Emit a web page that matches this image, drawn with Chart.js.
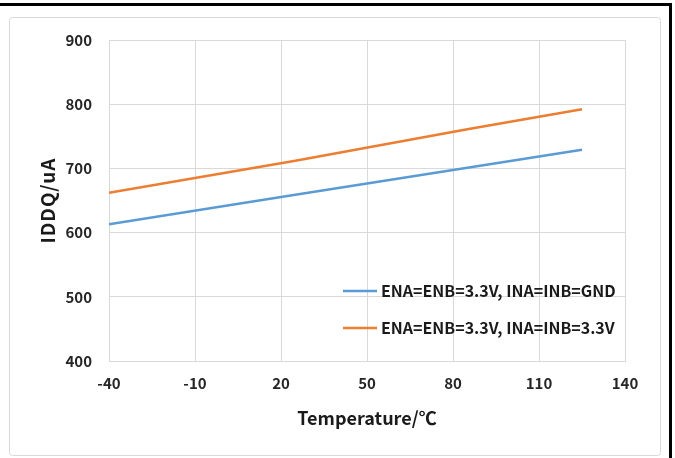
<!DOCTYPE html>
<html>
<head>
<meta charset="utf-8">
<script src="https://cdn.jsdelivr.net/npm/chart.js@4.4.1/dist/chart.umd.min.js"></script>
<style>
  html, body { margin: 0; padding: 0; background: #fff; }
  #wrap { position: relative; width: 675px; height: 458px; }
  canvas { position: absolute; left: 0; top: 0; }
</style>
</head>
<body>
<div id="wrap"><canvas id="chart" width="675" height="458"></canvas></div>
<script>
// Data
var temperatures = [-40, 25, 85, 125];
var iddqGnd = [613, 659, 701, 729];
var iddq33 = [662, 712, 761, 792];
var seriesLabels = ['ENA=ENB=3.3V, INA=INB=GND', 'ENA=ENB=3.3V, INA=INB=3.3V'];
var seriesColors = ['#5B9BD5', '#ED7D31'];
var yTitle = 'IDDQ/uA';

var fontFamily = "'Noto Sans CJK SC', 'Noto Sans', sans-serif";

// page frame: black edge lines and grey chart border
const framePlugin = {
    id: 'frame',
    beforeDraw(chart) {
        const ctx = chart.ctx;
        ctx.save();
        ctx.fillStyle = '#fff';
        ctx.fillRect(0, 0, chart.width, chart.height);
        ctx.strokeStyle = '#d9d9d9';
        ctx.lineWidth = 1;
        ctx.beginPath();
        ctx.roundRect(9.5, 17.5, 651, 438, 3);
        ctx.stroke();
        ctx.strokeStyle = '#000';
        ctx.lineWidth = 3;
        ctx.beginPath();
        ctx.moveTo(0, 4.5);
        ctx.lineTo(670.5, 4.5);
        ctx.lineTo(670.5, chart.height);
        ctx.stroke();
        ctx.restore();
    }
};

// y title drawn by hand so it can get a little letter spacing
const yTitlePlugin = {
    id: 'yTitle',
    afterDraw(chart) {
        const ctx = chart.ctx;
        const area = chart.chartArea;
        ctx.save();
        ctx.translate(47.5, (area.top + area.bottom) / 2);
        ctx.rotate(-Math.PI / 2);
        ctx.font = 'bold 19px ' + fontFamily;
        ctx.letterSpacing = '1px';
        ctx.textAlign = 'center';
        ctx.textBaseline = 'middle';
        ctx.fillStyle = '#1a1a1a';
        ctx.fillText(yTitle, 0, 0);
        ctx.restore();
    }
};

// legend drawn inside the plot area, bottom right
const insideLegend = {
    id: 'insideLegend',
    afterDatasetsDraw(chart) {
        const ctx = chart.ctx;
        const area = chart.chartArea;
        ctx.save();
        ctx.font = 'bold 16px ' + fontFamily;
        ctx.textBaseline = 'middle';
        ctx.textAlign = 'left';
        chart.data.datasets.forEach((ds, i) => {
            const y = area.bottom - 70 + i * 37;
            const x = area.left + 234;
            ctx.strokeStyle = ds.borderColor;
            ctx.lineWidth = 2.5;
            ctx.beginPath();
            ctx.moveTo(x, y);
            ctx.lineTo(x + 34, y);
            ctx.stroke();
            ctx.fillStyle = '#1a1a1a';
            ctx.fillText(ds.label, x + 38, y);
        });
        ctx.restore();
    }
};

const ctx = document.getElementById('chart').getContext('2d');
new Chart(ctx, {
    type: 'line',
    data: {
        datasets: [{
            label: seriesLabels[0],
            data: temperatures.map((t, i) => ({x: t, y: iddqGnd[i]})),
            borderColor: seriesColors[0],
            borderWidth: 2.5,
            pointRadius: 0,
            tension: 0
        }, {
            label: seriesLabels[1],
            data: temperatures.map((t, i) => ({x: t, y: iddq33[i]})),
            borderColor: seriesColors[1],
            borderWidth: 2.5,
            pointRadius: 0,
            tension: 0
        }]
    },
    options: {
        responsive: false,
        animation: false,
        layout: {
            padding: {left: 31, right: 50, top: 40, bottom: 25}
        },
        plugins: {
            legend: {display: false},
            tooltip: {enabled: false}
        },
        scales: {
            x: {
                type: 'linear',
                min: -40,
                max: 140,
                afterFit: function(scale) { scale.height = 72; },
                ticks: {
                    stepSize: 30,
                    padding: 13,
                    color: '#262626',
                    font: {family: fontFamily, size: 15, weight: 'bold'}
                },
                grid: {color: '#d9d9d9', drawTicks: false},
                border: {color: '#d9d9d9'},
                title: {
                    display: true,
                    text: 'Temperature/℃',
                    color: '#1a1a1a',
                    font: {family: fontFamily, size: 18, weight: 'bold'}
                }
            },
            y: {
                min: 400,
                max: 900,
                afterFit: function(scale) { scale.width = 78; },
                ticks: {
                    stepSize: 100,
                    padding: 17,
                    color: '#262626',
                    font: {family: fontFamily, size: 15, weight: 'bold'}
                },
                grid: {color: '#d9d9d9', drawTicks: false},
                border: {color: '#d9d9d9'}
            }
        }
    },
    plugins: [framePlugin, yTitlePlugin, insideLegend]
});
</script>
</body>
</html>
